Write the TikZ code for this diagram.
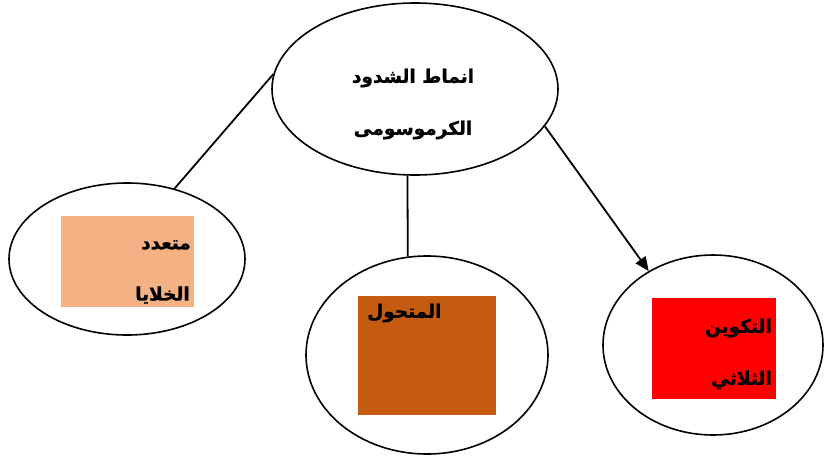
\documentclass[tikz,border=0pt]{standalone}
\usepackage{fontspec}
\TeXXeTstate=1
\newfontfamily\arabicfont[Script=Arabic,FakeBold=1.2]{DejaVu Sans Bold}
\usetikzlibrary{shapes.geometric,arrows.meta}
\definecolor{peach}{HTML}{F4B183}
\definecolor{rust}{HTML}{C55A11}
\definecolor{vivid}{HTML}{FF0000}
\begin{document}
\begin{tikzpicture}[x=1pt,y=-1pt,
  bubble/.style={draw=black,line width=1.6pt,ellipse,inner sep=0pt},
  panel/.style={draw=none,inner sep=0pt,outer sep=0pt},
  lbl/.style={font=\arabicfont\fontsize{18.5}{22}\selectfont,inner sep=0pt},
  link/.style={line width=1.8pt}]
\useasboundingbox[fill=white] (0,0) rectangle (828,456);
% ellipses
\node[bubble,minimum width=286pt,minimum height=172pt] (top) at (415,89) {};
\node[bubble,minimum width=236pt,minimum height=152pt] (left) at (127,259) {};
\node[bubble,minimum width=242pt,minimum height=198pt] (mid) at (427,355) {};
\node[bubble,minimum width=220pt,minimum height=180pt] (right) at (713,345) {};
% coloured panels
\node[panel,fill=peach,minimum width=133pt,minimum height=91pt] (pL) at (127.5,261.5) {};
\node[panel,fill=rust,minimum width=138pt,minimum height=119pt] (pM) at (427,355.5) {};
\node[panel,fill=vivid,minimum width=124pt,minimum height=101pt] (pR) at (714,348.5) {};
% texts
\node[lbl] (tt1) at (413,78) {\beginR انماط الشدود\endR};
\node[lbl] (tt2) at (413,130) {\beginR الكرموسومى\endR};
\node[lbl,anchor=east] (tl1) at (191,245) {\beginR متعدد\endR};
\node[lbl,anchor=east] (tl2) at (190,295) {\beginR الخلايا\endR};
\node[lbl,anchor=west] (tm1) at (367,313) {\beginR المتحول\endR};
\node[lbl,anchor=east] (tr1) at (772,328) {\beginR التكوين\endR};
\node[lbl,anchor=east] (tr2) at (772,380) {\beginR الثلاثي\endR};
% connectors
\draw[link] (top.174) -- (left.56);
\draw[link] (top.265) -- (mid.101);
\draw[link,-{Triangle[length=14pt,width=12pt]}] (top.-16) -- (right.131);
\end{tikzpicture}
\end{document}
